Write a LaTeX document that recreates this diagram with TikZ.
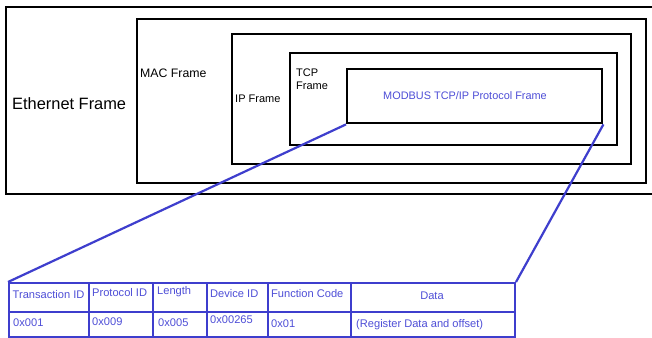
\documentclass[tikz,border=0pt]{standalone}
\usepackage{fontspec}
\setmainfont{Liberation Sans}
\definecolor{lnblue}{RGB}{62,62,205}
\definecolor{txblue}{RGB}{78,78,215}
\begin{document}
\begin{tikzpicture}[x=1pt,y=-1pt,
  frame/.style={draw=black, line width=2.4pt, rectangle, inner sep=0pt, anchor=north west},
  cell/.style={draw=lnblue, line width=2pt, rectangle, inner sep=0pt, anchor=north west},
  lbl/.style={inner sep=0pt, anchor=west, font=\fontsize{11}{13}\selectfont},
  ctext/.style={inner sep=0pt, anchor=west, text=txblue, font=\fontsize{11.1}{13}\selectfont},
  link/.style={draw=lnblue, line width=2.2pt}]
\useasboundingbox (0,0) rectangle (652,337);
\fill[white] (0,0) rectangle (652,337);
\begin{scope}
\clip (0,0) rectangle (652,337);
% frames
\node[frame, minimum width=660pt, minimum height=187pt] (eth) at (5,6) {};
\node[frame, minimum width=509pt, minimum height=164pt] (mac) at (136,18) {};
\node[frame, minimum width=399pt, minimum height=130pt] (ip) at (231,33) {};
\node[frame, minimum width=327pt, minimum height=92pt] (tcp) at (289,52) {};
\node[frame, minimum width=255pt, minimum height=54pt] (mb) at (346,68) {};
% frame labels
\node[lbl, font=\fontsize{16.4}{18}\selectfont] (ethl) at (12,104) {Ethernet Frame};
\node[lbl, font=\fontsize{12.3}{14}\selectfont] (macl) at (140,73) {MAC Frame};
\node[lbl] (ipl) at (235,99) {IP Frame};
\node[lbl, align=left] (tcpl) at (296,79.5) {TCP\\Frame};
\node[inner sep=0pt, text=txblue, font=\fontsize{10.9}{13}\selectfont] (mbl) at (465,96) {MODBUS TCP/IP Protocol Frame};
% table cells row 1
\node[cell, minimum width=80pt, minimum height=29pt] (c11) at (8,282) {};
\node[cell, minimum width=64pt, minimum height=29pt] (c12) at (88,282) {};
\node[cell, minimum width=54pt, minimum height=29pt] (c13) at (152,282) {};
\node[cell, minimum width=61pt, minimum height=29pt] (c14) at (206,282) {};
\node[cell, minimum width=83pt, minimum height=29pt] (c15) at (267,282) {};
\node[cell, minimum width=164pt, minimum height=29pt] (c16) at (350,282) {};
% row 2
\node[cell, minimum width=80pt, minimum height=25pt] (c21) at (8,311) {};
\node[cell, minimum width=64pt, minimum height=25pt] (c22) at (88,311) {};
\node[cell, minimum width=54pt, minimum height=25pt] (c23) at (152,311) {};
\node[cell, minimum width=61pt, minimum height=25pt] (c24) at (206,311) {};
\node[cell, minimum width=83pt, minimum height=25pt] (c25) at (267,311) {};
\node[cell, minimum width=164pt, minimum height=25pt] (c26) at (350,311) {};
% texts
\node[ctext] (t11) at (12.5,295) {Transaction ID};
\node[ctext] (t12) at (92,293) {Protocol ID};
\node[ctext] (t13) at (157,292) {Length};
\node[ctext] (t14) at (210,294) {Device ID};
\node[ctext] (t15) at (271,294) {Function Code};
\node[ctext, anchor=center] (t16) at (432,296) {Data};
\node[ctext] (t21) at (13,323) {0x001};
\node[ctext] (t22) at (92,322) {0x009};
\node[ctext] (t23) at (158,323) {0x005};
\node[ctext] (t24) at (210,320) {0x00265};
\node[ctext] (t25) at (271,324) {0x01};
\node[ctext] (t26) at (356,325) {(Register Data and offset)};
% connectors
\draw[link] (mb.south west) -- (c11.north west);
\draw[link] (mb.south east) -- (c16.north east);
\end{scope}
\end{tikzpicture}
\end{document}
